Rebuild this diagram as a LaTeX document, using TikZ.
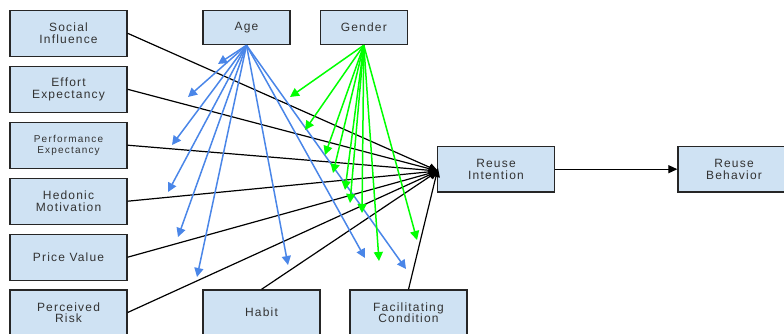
\documentclass[tikz,border=0pt]{standalone}
\usepackage{fontspec}
\setmainfont{Liberation Sans}[LetterSpace=10]
\usetikzlibrary{arrows.meta}
\definecolor{boxfill}{HTML}{CFE2F3}
\definecolor{ageblue}{HTML}{4A86E8}
\definecolor{gendergreen}{HTML}{00FF00}
\begin{document}
\begin{tikzpicture}[x=1pt,y=-1pt,
  box/.style={draw=black!85, line width=1.3pt, fill=boxfill, align=center, inner sep=0pt,
    text=black!80, font=\fontsize{12}{11.5}\selectfont},
  lbox/.style={box, minimum width=117pt, minimum height=46pt},
  tbox/.style={box, minimum width=87pt, minimum height=34pt},
  blk/.style={draw=black, line width=1.2pt, -{Triangle[length=9pt,width=8pt]}},
  bluearr/.style={draw=ageblue, line width=1.5pt, -{Triangle[length=9pt,width=9pt]}},
  greenarr/.style={draw=gendergreen, line width=1.5pt, -{Triangle[length=9pt,width=9pt]}}]
\useasboundingbox (0,0) rectangle (784,334);
\begin{scope}
\clip (0,0) rectangle (784,334);
% left column
\node[lbox] (si) at (68.5,33.3) {Social\\Influence};
\node[lbox] (ee) at (68.5,89.3) {Effort\\Expectancy};
\node[lbox, font=\fontsize{10}{11}\selectfont\addfontfeatures{LetterSpace=12}] (pe) at (68.5,145.2) {Performance\\Expectancy};
\node[lbox] (hm) at (68.5,201.2) {Hedonic\\Motivation};
\node[lbox] (pv) at (68.5,257.2) {Price Value};
\node[lbox, minimum height=45pt] (pr) at (68.5,312.5) {Perceived\\Risk};
% top
\node[tbox] (age) at (246.5,27.6) {Age};
\node[tbox] (gen) at (363.8,27.6) {Gender};
% bottom
\node[lbox, minimum height=45pt] (hab) at (261.5,312.5) {Habit};
\node[lbox, minimum height=45pt] (fc) at (408.5,312.5) {Facilitating\\Condition};
% right
\node[lbox, minimum height=45.5pt] (ri) at (496,169.2) {Reuse\\Intention};
\node[box, minimum width=112pt, minimum height=45.5pt] (rb) at (734,169.2) {Reuse\\Behavior};
\coordinate (hub) at (438,171);
% black connectors
\draw[blk] (si.east) -- (hub);
\draw[blk] (ee.east) -- (hub);
\draw[blk] (pe.east) -- (hub);
\draw[blk] (hm.east) -- (hub);
\draw[blk] (pv.east) -- (hub);
\draw[blk] (pr.east) -- (hub);
\draw[blk] (hab.north) -- (hub);
\draw[blk] (fc.north) -- ([yshift=3pt]hub);
\draw[blk] (ri.east) -- (rb.west);
% age moderation arrows
\foreach \n/\p in {a1/{218,64}, a2/{188,97}, a3/{172,145}, a4/{168,192}, a5/{178,237},
                   a6/{197,277}, a7/{288,265}, a8/{365,258}, a9/{406,269}} {
  \coordinate (\n) at (\p);
  \draw[bluearr] (age.south) -- (\n);
}
% gender moderation arrows
\foreach \n/\p in {g1/{290,97}, g2/{305,130}, g3/{325,155}, g4/{333,173}, g5/{345,190},
                   g6/{350,203}, g7/{362,213}, g8/{379,261}, g9/{417,240}} {
  \coordinate (\n) at (\p);
  \draw[greenarr] (gen.south) -- (\n);
}
\end{scope}
\end{tikzpicture}
\end{document}
